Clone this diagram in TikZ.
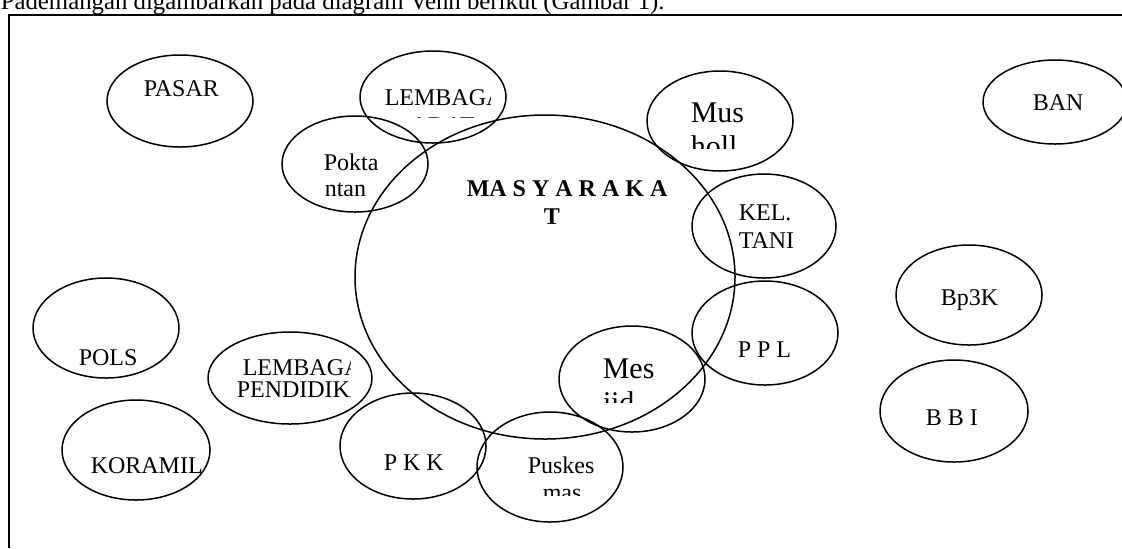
\documentclass[tikz,border=0pt]{standalone}
\usepackage{fontspec}
\setmainfont{Liberation Serif}
\begin{document}
\begin{tikzpicture}[x=0.5pt, y=-0.5pt, line width=0.75pt,
	txt/.style={anchor=base west, inner sep=0pt, font=\fontsize{12}{14}\selectfont},
	big/.style={anchor=base west, inner sep=0pt, font=\fontsize{15}{17}\selectfont}]
	\useasboundingbox (0,0) rectangle (1122,548);
	\node (caption) [txt, font=\fontsize{12.4}{14}\selectfont] at (0,9) {Pademangan digambarkan pada diagram Venn berikut (Gambar 1).};
	\draw[line width=1pt] (9,548) -- (9,15) -- (1122,15);
	% ellipses
	\draw (180,101) ellipse [x radius=73, y radius=46];
	\draw (433,97) ellipse [x radius=73, y radius=46];
	\draw (355,164) ellipse [x radius=73, y radius=48];
	\draw (720,121) ellipse [x radius=73, y radius=50];
	\draw (545,277) ellipse [x radius=190, y radius=162];
	\draw (764,226) ellipse [x radius=72, y radius=52];
	\draw (765,333) ellipse [x radius=73, y radius=52];
	\draw (969,295) ellipse [x radius=73, y radius=50];
	\draw (1055,102) ellipse [x radius=72, y radius=42];
	\draw (106,328) ellipse [x radius=73, y radius=50];
	\draw (290,378) ellipse [x radius=82, y radius=46];
	\draw (136,450) ellipse [x radius=74, y radius=50];
	\draw (413,446) ellipse [x radius=73, y radius=53];
	\draw (632,379) ellipse [x radius=73, y radius=53];
	\draw (550,467) ellipse [x radius=73, y radius=55];
	\draw (954,411) ellipse [x radius=74, y radius=51];
	% labels
	\node (pasar) [txt] at (143,96) {PASAR};
	\begin{scope}
		\clip (370,80) rectangle (490,117);
		\node (adat1) [txt] at (384,105) {LEMBAGA};
		\node (adat2) [txt] at (410,133) {ADAT};
	\end{scope}
	\node (pokta1) [txt] at (323,170) {Pokta};
	\node (pokta2) [txt] at (324,196) {ntan};
	\begin{scope}
		\clip (680,90) rectangle (760,148);
		\node (mus1) [big] at (690,122) {Mus};
		\node (mus2) [big] at (690,156) {holl};
	\end{scope}
	\node (masy1) [txt, font=\fontsize{12}{14}\selectfont\bfseries] at (466,196) {MA S Y A R A K A};
	\node (masy2) [txt, font=\fontsize{12}{14}\selectfont\bfseries] at (543,224) {T};
	\node (kel1) [txt] at (738,220) {KEL.};
	\node (kel2) [txt] at (738,248) {TANI};
	\node (ppl) [txt] at (737,357) {P P L};
	\node (bpk) [txt] at (940,305) {Bp3K};
	\node (ban) [txt] at (1032,110) {BAN};
	\node (pols) [txt] at (78,365) {POLS};
	\begin{scope}
		\clip (220,340) rectangle (350,410);
		\node (pend1) [txt] at (242,375) {LEMBAGA};
		\node (pend2) [txt] at (236,397) {PENDIDIKAN};
	\end{scope}
	\begin{scope}
		\clip (70,440) rectangle (214,490);
		\node (koramil) [txt] at (90,473) {KORAMIL};
	\end{scope}
	\node (pkk) [txt] at (383,470) {P K K};
	\begin{scope}
		\clip (590,340) rectangle (670,402);
		\node (mes1) [big] at (602,378) {Mes};
		\node (mes2) [big] at (602,412) {jid};
	\end{scope}
	\begin{scope}
		\clip (515,440) rectangle (610,495);
		\node (pus1) [txt] at (527,473) {Puskes};
		\node (pus2) [txt] at (542,500) {mas};
	\end{scope}
	\node (bbi) [txt] at (925,425) {B B I};
\end{tikzpicture}
\end{document}
